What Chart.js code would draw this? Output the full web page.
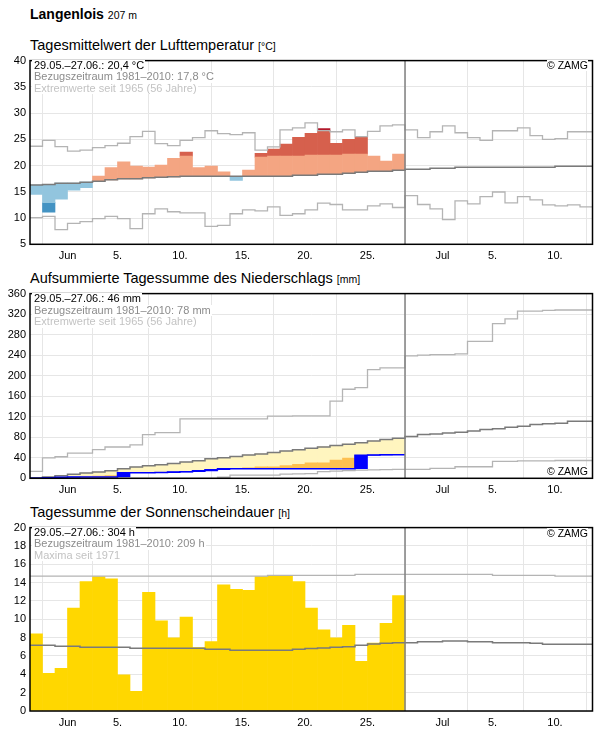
<!DOCTYPE html>
<html>
<head>
<meta charset="utf-8">
<script src="https://cdn.jsdelivr.net/npm/chart.js@4.4.0/dist/chart.umd.min.js"></script>
<style>
  body { margin: 0; background: #fff; font-family: "Liberation Sans", Arial, sans-serif; }
  #page { position: relative; width: 596px; height: 729px; overflow: hidden; }
  canvas { position: absolute; left: 0; }
  .head { position: absolute; left: 30px; font-size: 14px; line-height: 14px; white-space: nowrap; }
  .head small { font-size: 10.5px; }
  .title { position: absolute; left: 30px; font-size: 14.5px; line-height: 14.5px; white-space: nowrap; }
  .title small { font-size: 10.5px; }
  .info { position: absolute; left: 32px; font-size: 11px; line-height: 11.5px; z-index: 2; }
  .info span { display: block; width: fit-content; background: #fff; padding: 0 1px 0 2px; white-space: nowrap; }
  .zamg { position: absolute; right: 8px; font-size: 10.5px; line-height: 11px; background: #fff; z-index: 2; }
</style>
</head>
<body>
<div id="page">
  <div class="head" style="top:6.5px"><b>Langenlois</b> <small>207 m</small></div>

  <div class="title" style="top:37.7px">Tagesmittelwert der Lufttemperatur <small>[°C]</small></div>
  <canvas id="temp" width="596" height="215" style="top:50px"></canvas>
  <div class="info" style="top:59.5px">
    <span style="color:#000">29.05.–27.06.: 20,4 °C</span>
    <span style="color:#8c8c8c">Bezugszeitraum 1981–2010: 17,8 °C</span>
    <span style="color:#c3c3c3">Extremwerte seit 1965 (56 Jahre)</span>
  </div>
  <div class="zamg" style="top:60px">© ZAMG</div>

  <div class="title" style="top:271px">Aufsummierte Tagessumme des Niederschlags <small>[mm]</small></div>
  <canvas id="rain" width="596" height="216" style="top:283px"></canvas>
  <div class="info" style="top:293px">
    <span style="color:#000">29.05.–27.06.: 46 mm</span>
    <span style="color:#8c8c8c">Bezugszeitraum 1981–2010: 78 mm</span>
    <span style="color:#c3c3c3">Extremwerte seit 1965 (56 Jahre)</span>
  </div>
  <div class="zamg" style="top:466px">© ZAMG</div>

  <div class="title" style="top:505.2px">Tagessumme der Sonnenscheindauer <small>[h]</small></div>
  <canvas id="sun" width="596" height="212" style="top:517px"></canvas>
  <div class="info" style="top:526.5px">
    <span style="color:#000">29.05.–27.06.: 304 h</span>
    <span style="color:#8c8c8c">Bezugszeitraum 1981–2010: 209 h</span>
    <span style="color:#c3c3c3">Maxima seit 1971</span>
  </div>
  <div class="zamg" style="top:527.5px">© ZAMG</div>
</div>

<script>
//Days: index 0 = 29.05., index 44 = 12.07.
const nDays = 45
const splitDay = 30
const tickDays = [3, 7, 12, 17, 22, 27, 33, 37, 42]
const tickLabels = ['Jun', '5.', '10.', '15.', '20.', '25.', 'Jul', '5.', '10.']

//Temperature [°C]
const tObs = [14.5, 11.1, 13.6, 15.3, 15.8, 18.0, 19.6, 20.7, 19.9, 19.7, 20.1, 21.4, 22.55, 19.6, 19.9,
  18.8, 17.15, 19.15, 22.35, 23.15, 24.1, 25.4, 26.15, 27.05, 24.25, 25.0, 25.4, 21.8, 20.85, 22.2]
const tClim = [16.28, 16.4, 16.65, 16.65, 16.84, 17.03, 17.28, 17.47, 17.47, 17.66, 17.78, 17.85, 17.97, 17.97, 17.97,
  17.97, 17.97, 17.97, 17.97, 17.97, 17.97, 18.16, 18.16, 18.35, 18.35, 18.54, 18.73, 18.91, 18.91, 19.1,
  19.29, 19.29, 19.48, 19.48, 19.67, 19.67, 19.67, 19.67, 19.67, 19.67, 19.67, 19.67, 19.85, 19.85, 19.85]
const tMax = [23.68, 24.81, 23.62, 22.74, 22.93, 23.43, 23.81, 24.25, 25.5, 26.5, 24.18, 23.81, 24.81, 25.31, 26.63,
  26.07, 25.88, 26.25, 22.93, 23.56, 26.82, 27.2, 28.14, 26.65, 26.44, 26.82, 25.5, 26.5, 27.57, 27.76,
  26.82, 25.31, 26.44, 27.57, 26.25, 25.31, 24.81, 26.63, 26.63, 27.2, 25.69, 25.0, 25.12, 26.44, 26.44]
const tMin = [10.07, 10.32, 7.81, 9.0, 9.32, 9.88, 10.32, 9.88, 8.0, 10.82, 11.76, 11.2, 11.0, 11.0, 8.4,
  8.6, 10.82, 11.57, 11.38, 12.14, 10.51, 10.82, 11.57, 12.83, 12.58, 11.57, 11.57, 12.33, 12.7, 12.01,
  14.27, 12.58, 11.76, 9.69, 13.27, 12.7, 14.08, 14.96, 12.89, 14.08, 13.46, 12.52, 12.33, 12.52, 12.14]
const tWarmLim = [20.1, 20.2, 20.4, 20.5, 20.6, 20.8, 21.0, 21.2, 21.3, 21.4, 21.5, 21.6, 21.8, 21.8, 21.8,
  21.7, 21.6, 21.6, 21.6, 21.8, 21.8, 21.8, 22.0, 22.0, 22.0, 22.2, 22.2, 22.3, 22.4, 22.5]
const tColdLim = [12.6, 12.95, 13.0, 13.1, 13.3, 13.4, 13.6, 13.8, 13.9, 14.0, 14.1, 14.2, 14.3, 14.3, 14.3,
  14.3, 14.3, 14.3, 14.3, 14.3, 14.4, 14.5, 14.5, 14.6, 14.6, 14.8, 14.9, 15.0, 15.0, 15.2]

//Precipitation, accumulated [mm]
const pObs = [0, 1.0, 2.0, 2.6, 2.6, 2.6, 2.6, 10.9, 11.0, 11.0, 11.2, 12.2, 13.0, 14.5, 16.7,
  18.6, 18.6, 18.6, 18.6, 18.6, 18.6, 18.6, 18.6, 18.6, 18.6, 18.6, 45.0, 45.5, 46.0, 46.0]
const pDryLim = [0, 0.5, 1.0, 1.5, 3.5, 4.5, 5.5, 7.0, 8.0, 9.0, 10.0, 11.5, 13.0, 14.5, 16.0,
  18.0, 19.0, 20.6, 22.5, 22.5, 25.0, 27.0, 30.2, 30.2, 35.4, 39.2, 41.0, 42.0, 43.5, 45.0]
const pMean = [1.3, 2.6, 5.2, 7.7, 10.3, 12.3, 14.8, 18.7, 21.9, 24.5, 26.5, 29.0, 31.6, 34.2, 38.1,
  40.0, 42.5, 45.2, 47.5, 50.3, 53.0, 55.6, 58.5, 61.2, 64.0, 66.5, 69.5, 72.5, 75.5, 78.0,
  81.7, 85.5, 86.5, 88.1, 90.0, 92.0, 95.2, 96.5, 99.7, 101.6, 104.8, 106.1, 107.4, 111.2, 111.2]
const pMax = [13.5, 40, 42, 49, 49, 56, 61, 61, 65, 85, 89, 89, 116, 116, 116,
  116, 116, 116, 116, 121, 121, 121.5, 121.5, 121.5, 150.5, 173.6, 176.8, 212, 215.4, 215.4,
  238.6, 240, 241, 241, 242.4, 267, 267, 301.6, 310.6, 326, 326, 327.3, 328, 328, 328]
const pMin = [0, 0, 0, 0, 0, 0, 0, 0, 0, 0, 0, 0, 0, 0, 0,
  2, 6, 6, 6, 6, 8, 8.5, 9, 13, 14, 15, 16, 16.5, 17, 17.4,
  17.4, 17.4, 19.3, 19.3, 22.5, 22.5, 22.5, 32.8, 32.8, 34, 34, 34, 34.7, 34.7, 34.7]

//Sunshine duration [h]
const sObs = [8.42, 4.12, 4.66, 11.22, 14.12, 14.66, 14.41, 3.94, 2.15, 12.94, 9.82, 7.99, 10.25, 6.92, 7.56,
  13.76, 13.26, 13.15, 14.66, 14.8, 14.8, 14.12, 11.22, 8.85, 7.99, 9.35, 5.41, 7.42, 9.57, 12.58]
const sClim = [7.17, 7.17, 7.06, 7.06, 6.95, 6.95, 6.95, 6.95, 6.84, 6.84, 6.84, 6.84, 6.84, 6.84, 6.74,
  6.74, 6.63, 6.63, 6.63, 6.63, 6.63, 6.74, 6.81, 6.88, 6.95, 7.02, 7.17, 7.31, 7.38, 7.45,
  7.45, 7.56, 7.56, 7.63, 7.63, 7.56, 7.56, 7.45, 7.45, 7.45, 7.38, 7.27, 7.27, 7.27, 7.27]
const sMax = [14.7, 14.7, 14.7, 14.7, 14.7, 14.7, 14.7, 14.7, 14.7, 14.7, 14.7, 14.7, 14.7, 14.7, 14.7,
  14.7, 14.7, 14.7, 14.7, 14.8, 14.8, 14.8, 14.8, 14.8, 14.8, 14.8, 14.9, 14.9, 14.9, 14.9,
  14.9, 14.9, 14.9, 14.9, 14.9, 14.9, 14.9, 14.8, 14.8, 14.8, 14.8, 14.8, 14.7, 14.7, 14.7]

Chart.defaults.font.family = '"Liberation Sans", Arial, sans-serif'

//helpers
const steps = arr => arr.map((v, i) => ({ x: i, y: v })).concat([{ x: arr.length, y: arr[arr.length - 1] }])

const stepLine = (arr, color, width) => ({
  type: 'line', data: steps(arr), borderColor: color, borderWidth: width,
  pointRadius: 0, stepped: true, fill: false, order: 0
})

const barSet = (segs, color) => ({
  type: 'bar', data: segs, backgroundColor: color, borderWidth: 0,
  barPercentage: 1, categoryPercentage: 1, grouped: false, order: 1
})

const frame = {
  id: 'frame',
  afterDatasetsDraw(chart) {
    const { ctx, chartArea: a, scales: { x } } = chart
    const sx = x.getPixelForValue(splitDay)
    ctx.save()
    ctx.lineWidth = 1.5
    ctx.strokeStyle = '#808080'
    ctx.beginPath()
    ctx.moveTo(sx, a.top)
    ctx.lineTo(sx, a.bottom)
    ctx.stroke()
    ctx.strokeStyle = '#000'
    ctx.strokeRect(a.left, a.top, a.width, a.height)
    ctx.restore()
  }
}

const makeChart = (id, yMin, yMax, yStep, padTop, xHeight, datasets) => new Chart(document.getElementById(id), {
  type: 'bar',
  data: { datasets: datasets },
  options: {
    responsive: false,
    animation: false,
    events: [],
    devicePixelRatio: 1,
    layout: { padding: { top: padTop, right: 3.5, bottom: 0, left: 0 } },
    plugins: { legend: { display: false }, tooltip: { enabled: false } },
    scales: {
      x: {
        type: 'linear', min: 0, max: nDays, offset: false,
        afterBuildTicks: s => { s.ticks = tickDays.map(v => ({ value: v })) },
        afterFit: s => { s.height = xHeight },
        grid: { color: '#e6e6e6', drawTicks: false },
        border: { display: false },
        ticks: {
          autoSkip: false, maxRotation: 0, padding: 5, color: '#000', font: { size: 11 },
          callback: v => tickLabels[tickDays.indexOf(v)]
        }
      },
      y: {
        min: yMin, max: yMax,
        afterFit: s => { s.width = 30 },
        grid: { color: '#e6e6e6', drawTicks: false },
        border: { display: false },
        ticks: { stepSize: yStep, padding: 4, color: '#000', font: { size: 11 } }
      }
    }
  },
  plugins: [frame]
})

//Temperature bars: colour bands between climate mean and daily value
const salmon = [], red = [], crimson = [], lightBlue = [], blue = []
tObs.forEach((v, i) => {
  const c = tClim[i], x = i + 0.5
  if (v >= c) {
    salmon.push({ x, y: [c, Math.min(v, tWarmLim[i])] })
    if (v > tWarmLim[i]) red.push({ x, y: [tWarmLim[i], Math.min(v, tMax[i])] })
    if (v > tMax[i]) crimson.push({ x, y: [tMax[i], v] })
  } else {
    lightBlue.push({ x, y: [Math.max(v, tColdLim[i]), c] })
    if (v < tColdLim[i]) blue.push({ x, y: [v, tColdLim[i]] })
  }
})

makeChart('temp', 5, 40, 5, 8.3, 20.7, [
  stepLine(tClim, '#7a7a7a', 1.5),
  stepLine(tMax, '#b4b4b4', 1.3),
  stepLine(tMin, '#b4b4b4', 1.3),
  barSet(salmon, '#f4a582'),
  barSet(red, '#d6604d'),
  barSet(crimson, '#b2182b'),
  barSet(lightBlue, '#92c5de'),
  barSet(blue, '#4393c3')
])

//Precipitation: deficit bands and daily increments
const yellow = [], orange = [], rainBars = []
pObs.forEach((v, i) => {
  const m = pMean[i], lim = pDryLim[i], x = i + 0.5
  if (v < m) {
    if (v < lim) orange.push({ x, y: [v, Math.min(lim, m)] })
    yellow.push({ x, y: [Math.max(v, lim), m] })
  }
  const prev = i ? pObs[i - 1] : 0
  if (v > prev) rainBars.push({ x, y: [prev, v] })
})

makeChart('rain', 0, 360, 40, 8.7, 20.7, [
  stepLine(pObs, '#0000ff', 1.5),
  stepLine(pMean, '#7a7a7a', 1.5),
  stepLine(pMax, '#b4b4b4', 1.3),
  stepLine(pMin, '#b4b4b4', 1.3),
  barSet(rainBars, '#0000ff'),
  barSet(orange, '#fdc050'),
  barSet(yellow, '#fff5bf')
])

//Sunshine
const sunBars = sObs.map((v, i) => ({ x: i + 0.5, y: [0, v] }))

makeChart('sun', 0, 20, 2, 8, 18, [
  stepLine(sClim, '#7a7a7a', 1.5),
  stepLine(sMax, '#b4b4b4', 1.3),
  barSet(sunBars, '#ffd700')
])
</script>
</body>
</html>
